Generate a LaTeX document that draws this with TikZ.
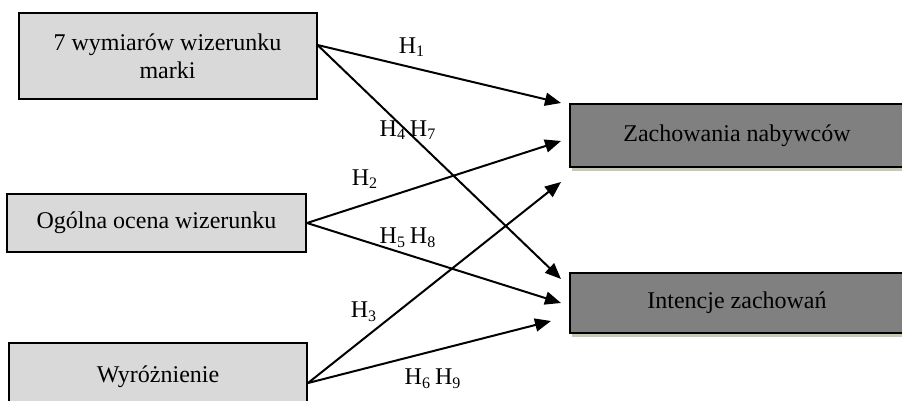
\documentclass[tikz,border=0pt]{standalone}
\usepackage{fontspec}
\setmainfont{Liberation Serif}
\usetikzlibrary{arrows.meta}
\definecolor{lightbox}{HTML}{D9D9D9}
\definecolor{darkbox}{HTML}{808080}
\definecolor{shadowc}{HTML}{C2CAB2}
\begin{document}
\begin{tikzpicture}[x=0.5pt,y=-0.5pt,
  every node/.style={font=\fontsize{12}{13.8}\selectfont, inner sep=0pt},
  srcbox/.style={draw=black, line width=1pt, fill=lightbox, align=center},
  tgtbox/.style={draw=black, line width=1pt, fill=darkbox, align=center},
  link/.style={line width=1pt, -{Triangle[length=8pt,width=6.5pt]}},
  hlabel/.style={}]
\useasboundingbox (0,0) rectangle (902,401);
\clip (0,0) rectangle (902,401);

% source boxes
\node[srcbox, minimum width=149pt, minimum height=43pt] (b1) at (167.5,56) {7 wymiarów wizerunku\\marki};
\node[srcbox, minimum width=149.5pt, minimum height=29pt] (b2) at (156.5,223) {Ogólna ocena wizerunku};
\node[srcbox, minimum width=149pt, minimum height=34pt] (b3) at (158,377) {Wyróżnienie};

% shadows of target boxes
\fill[shadowc] (572,167) rectangle (906,171);
\fill[shadowc] (572,333) rectangle (906,337);
% target boxes
\node[tgtbox, minimum width=167pt, minimum height=31.5pt] (z) at (737,135.5) {Zachowania nabywców};
\node[tgtbox, minimum width=167pt, minimum height=30pt] (i) at (737,303) {Intencje zachowań};

% connectors
\draw[link] ([yshift=5.5pt]b1.east) -- ([xshift=-4pt,yshift=16.25pt]z.west);
\draw[link] ([yshift=5.5pt]b1.east) -- ([xshift=-4pt,yshift=12pt]i.west);
\draw[link] (b2.east) -- ([xshift=-4pt,yshift=-2.75pt]z.west);
\draw[link] (b2.east) -- ([xshift=-4pt]i.west);
\draw[link] ([yshift=-3pt]b3.east) -- ([xshift=-4pt,yshift=-23.25pt]z.west);
\draw[link] ([yshift=-3pt]b3.east) -- ([xshift=-9pt,yshift=-9pt]i.west);

% labels
\node[hlabel] (l1) at (412,47) {H\textsubscript{1}};
\node[hlabel] (l2) at (365,179) {H\textsubscript{2}};
\node[hlabel] (l3) at (364,312) {H\textsubscript{3}};
\node[hlabel] (l4) at (408,130) {H\textsubscript{4}\,H\textsubscript{7}};
\node[hlabel] (l5) at (408,238) {H\textsubscript{5}\,H\textsubscript{8}};
\node[hlabel] (l6) at (433,379) {H\textsubscript{6}\,H\textsubscript{9}};
\end{tikzpicture}
\end{document}
